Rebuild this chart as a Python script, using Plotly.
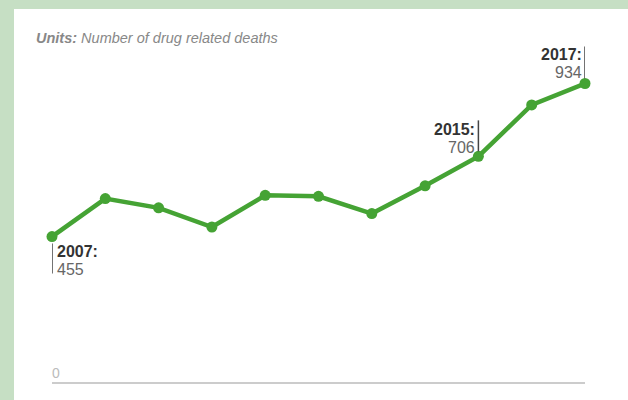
import plotly.graph_objects as go

years = [2007, 2008, 2009, 2010, 2011, 2012, 2013, 2014, 2015, 2016, 2017]
deaths = [455, 574, 545, 485, 584, 581, 527, 614, 706, 867, 934]
labelled_years = [2007, 2015, 2017]

W, H = 628, 400
ml, mr, mt, mb = 52, 43, 10, 18
pw, ph = W - ml - mr, H - mt - mb

GREEN = "#45a334"
FONT = "Liberation Sans, Arial"

fig = go.Figure()
fig.add_trace(go.Scatter(
    x=years, y=deaths, mode="lines+markers",
    line=dict(color=GREEN, width=4.5),
    marker=dict(color=GREEN, size=11),
    cliponaxis=False, hoverinfo="skip", showlegend=False,
))

shapes = [
    dict(type="rect", xref="paper", yref="paper",
         x0=(14 - ml) / pw, x1=1 + (mr + 5) / pw,
         y0=-(mb + 5) / ph, y1=1 + 1 / ph,
         fillcolor="white", line=dict(width=0), layer="below"),
]

annotations = [
    dict(xref="paper", yref="paper", x=(36 - ml) / pw, y=1 - (38 - mt) / ph,
         xanchor="left", yanchor="middle", showarrow=False, borderpad=0, borderwidth=0,
         text="<b><i>Units:</i></b><i> Number of drug related deaths</i>",
         font=dict(family=FONT, size=14.5, color="#888888")),
    dict(xref="x", yref="y", x=years[0], y=0, xanchor="left", yanchor="bottom",
         showarrow=False, text="0", xshift=0, yshift=1, borderpad=0, borderwidth=0,
         font=dict(family=FONT, size=14, color="#bbbbbb")),
]

for yr in labelled_years:
    v = deaths[years.index(yr)]
    first = yr == years[0]
    if first:
        shapes.append(dict(type="line", xref="x", yref="y", ysizemode="pixel", yanchor=v,
                           x0=yr, x1=yr, y0=-7, y1=-37, line=dict(color="#444444", width=1.5)))
        xa, xs, ys_top, ys_bot = "left", 5, -15, -33
    else:
        top = 37 if yr == years[-1] else 36
        shapes.append(dict(type="line", xref="x", yref="y", ysizemode="pixel", yanchor=v,
                           x0=yr, x1=yr, y0=5, y1=top, line=dict(color="#444444", width=1.5)))
        xa, xs = "right", -3
        ys_top, ys_bot = (29, 11) if yr == years[-1] else (27, 9)
    annotations.append(dict(xref="x", yref="y", x=yr, y=v, xanchor=xa, yanchor="middle",
                            xshift=xs, yshift=ys_top, showarrow=False, borderpad=0, borderwidth=0,
                            text=f"<b>{yr}:</b>",
                            font=dict(family=FONT, size=16, color="#333333")))
    annotations.append(dict(xref="x", yref="y", x=yr, y=v, xanchor=xa, yanchor="middle",
                            xshift=xs, yshift=ys_bot, showarrow=False, borderpad=0, borderwidth=0,
                            text=f"{v}",
                            font=dict(family=FONT, size=16, color="#666666")))

fig.update_layout(
    width=W, height=H,
    margin=dict(l=ml, r=mr, t=mt, b=mb),
    paper_bgcolor="#c6dfc4",
    plot_bgcolor="rgba(0,0,0,0)",
    xaxis=dict(range=[years[0], years[-1]], showgrid=False, zeroline=False,
               showticklabels=False, ticks="", showline=True,
               linecolor="#cccccc", linewidth=2),
    yaxis=dict(range=[0, 1164], showgrid=False, zeroline=False,
               showticklabels=False, ticks="", showline=False),
    shapes=shapes,
    annotations=annotations,
    hovermode=False,
)

fig.write_html("out.html", config={"displayModeBar": False, "staticPlot": True},
               post_script="document.body.style.margin='0';document.body.style.padding='0';document.body.style.overflow='hidden';")
